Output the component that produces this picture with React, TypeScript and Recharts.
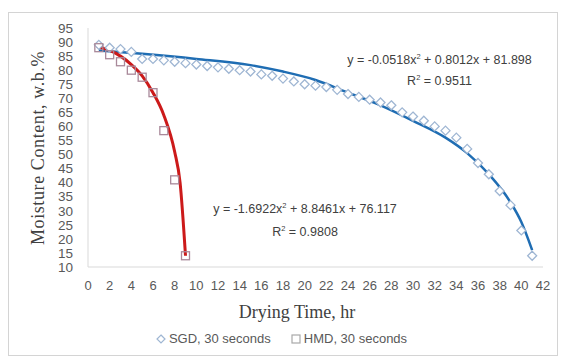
import React from 'react'
import { ComposedChart, Scatter, Line, XAxis, YAxis } from 'recharts'

// drying time (hr) and moisture content readings
const sgdHours = [1, 2, 3, 4, 5, 6, 7, 8, 9, 10, 11, 12, 13, 14, 15, 16, 17, 18, 19, 20, 21, 22, 23, 24, 25, 26, 27, 28, 29, 30, 31, 32, 33, 34, 35, 36, 37, 38, 39, 40, 41]
const sgdMoisture = [89, 88, 87.5, 86.5, 84, 84, 83.5, 83, 82.5, 82, 81.5, 81, 80.5, 80, 79.5, 78.5, 78, 77, 76, 75, 74.5, 74, 73, 71.5, 70.5, 69.5, 68.5, 67.5, 65, 63.5, 62, 60, 58.5, 56, 52, 47, 43, 37, 32, 23, 14]

const hmdHours = [1, 2, 3, 4, 5, 6, 7, 8, 9]
const hmdMoisture = [88, 85.5, 83, 80, 77.5, 72, 58.5, 41, 14]

// trendlines
const sgdTrendHours = [1, 5, 10, 15, 18, 21, 24, 27, 30, 33, 35, 37, 39, 40, 41]
const sgdTrendMoisture = [87, 85.8, 84, 81.8, 79.5, 76.5, 72, 67.5, 62, 56, 50.5, 43, 33, 26, 16]

const hmdTrendHours = [0.8, 2, 3, 4, 5, 6, 7, 8, 8.5, 9]
const hmdTrendMoisture = [88.5, 87, 85, 82, 78, 72, 64, 51, 40, 14]

const xTicks = [0, 2, 4, 6, 8, 10, 12, 14, 16, 18, 20, 22, 24, 26, 28, 30, 32, 34, 36, 38, 40, 42]
const yTicks = [10, 15, 20, 25, 30, 35, 40, 45, 50, 55, 60, 65, 70, 75, 80, 85, 90, 95]

const zip = (xs: number[], ys: number[]) => xs.map((x, i) => ({ x, y: ys[i] }))

const sgd = zip(sgdHours, sgdMoisture)
const hmd = zip(hmdHours, hmdMoisture)
const sgdTrend = zip(sgdTrendHours, sgdTrendMoisture)
const hmdTrend = zip(hmdTrendHours, hmdTrendMoisture)

const Diamond = (props: any) => {
  const { cx, cy } = props
  const r = 4.5
  return (
    <path
      d={`M${cx},${cy - r}L${cx + r},${cy}L${cx},${cy + r}L${cx - r},${cy}Z`}
      fill="#fff"
      stroke="#9fb6d3"
      strokeWidth={1.3}
    />
  )
}

const Square = (props: any) => {
  const { cx, cy } = props
  const r = 4
  return (
    <rect x={cx - r} y={cy - r} width={r * 2} height={r * 2} fill="none" stroke="#a9899a" strokeWidth={1.3} />
  )
}

const sans = 'Liberation Sans, Arial, sans-serif'
const serif = 'Liberation Serif, Times New Roman, serif'

export default function App() {
  return (
    <div style={{ position: 'absolute', left: 0, top: 0, width: 563, height: 358, background: '#fff' }}>
      <div
        style={{
          position: 'absolute',
          left: 8,
          top: 12,
          width: 548,
          height: 342,
          border: '1px solid #d4d4d4',
        }}
      />
      <ComposedChart width={563} height={358} margin={{ top: 28, right: 20, bottom: 61, left: 0 }}>
        <XAxis
          type="number"
          dataKey="x"
          domain={[0, 42]}
          ticks={xTicks}
          interval={0}
          stroke="#d9d9d9"
          tickLine={false}
          tickSize={0}
          tickMargin={14}
          height={30}
          tick={{ fill: '#595959', fontSize: 13, fontFamily: sans }}
        />
        <YAxis
          type="number"
          dataKey="y"
          domain={[10, 95]}
          ticks={yTicks}
          interval={0}
          width={88}
          stroke="#d9d9d9"
          tickLine={false}
          tickSize={0}
          tickMargin={15}
          tick={{ fill: '#595959', fontSize: 13.5, fontFamily: 'Liberation Sans Narrow, Arial Narrow, sans-serif' }}
        />
        <Scatter data={sgd} shape={Diamond} isAnimationActive={false} />
        <Scatter data={hmd} shape={Square} isAnimationActive={false} />
        <Line
          data={sgdTrend}
          dataKey="y"
          type="monotone"
          stroke="#1f6db3"
          strokeWidth={2.5}
          dot={false}
          isAnimationActive={false}
        />
        <Line
          data={hmdTrend}
          dataKey="y"
          type="monotone"
          stroke="#cc1a1a"
          strokeWidth={3}
          dot={false}
          isAnimationActive={false}
        />
      </ComposedChart>

      <div style={{ position: 'absolute', left: 332, top: 48, width: 215, textAlign: 'center', fontFamily: sans, fontSize: 12.5, color: '#404040', lineHeight: '18px' }}>
        y = -0.0518x<sup style={{ fontSize: 7.5 }}>2</sup> + 0.8012x + 81.898
        <br />
        R<sup style={{ fontSize: 7.5 }}>2</sup> = 0.9511
      </div>
      <div style={{ position: 'absolute', left: 197, top: 196, width: 216, textAlign: 'center', fontFamily: sans, fontSize: 12.5, color: '#404040', lineHeight: '19px' }}>
        y = -1.6922x<sup style={{ fontSize: 7.5 }}>2</sup> + 8.8461x + 76.117
        <br />
        R<sup style={{ fontSize: 7.5 }}>2</sup> = 0.9808
      </div>

      <div style={{ position: 'absolute', left: 197, width: 200, top: 302, textAlign: 'center', fontFamily: serif, fontSize: 18, color: '#404040' }}>
        Drying Time, hr
      </div>
      <div
        style={{
          position: 'absolute',
          left: 38,
          top: 148,
          transform: 'translate(-50%, -50%) rotate(-90deg)',
          whiteSpace: 'nowrap',
          fontFamily: serif,
          fontSize: 18,
          letterSpacing: 0.6,
          color: '#404040',
        }}
      >
        Moisture Content, w.b.%
      </div>

      <div style={{ position: 'absolute', left: 0, width: 563, top: 331, display: 'flex', justifyContent: 'center', gap: 20, fontFamily: sans, fontSize: 13, color: '#595959' }}>
        <span style={{ display: 'flex', alignItems: 'center', gap: 3 }}>
          <svg width={10} height={10}>
            <path d="M5,1L9,5L5,9L1,5Z" fill="#fff" stroke="#9fb6d3" strokeWidth={1.2} />
          </svg>
          SGD, 30 seconds
        </span>
        <span style={{ display: 'flex', alignItems: 'center', gap: 3 }}>
          <svg width={10} height={10}>
            <rect x={1} y={1} width={8} height={8} fill="none" stroke="#a9a9a9" strokeWidth={1.2} />
          </svg>
          HMD, 30 seconds
        </span>
      </div>
    </div>
  )
}
